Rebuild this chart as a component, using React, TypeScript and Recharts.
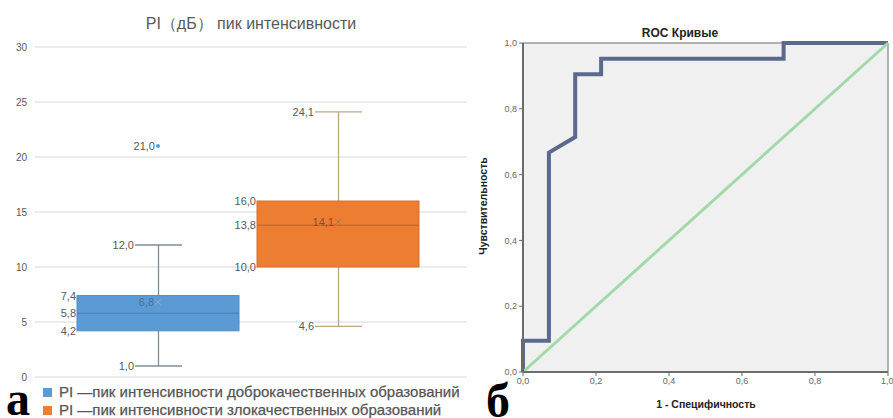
import React from 'react';
import {
  Bar,
  CartesianGrid,
  ComposedChart,
  Line,
  ReferenceLine,
  Scatter,
  XAxis,
  YAxis,
} from 'recharts';

// --- box plot data (PI, dB) ---
const groups = ['benign', 'malignant'];
const seriesNames = [
  'PI —пик интенсивности доброкачественных образований',
  'PI —пик интенсивности злокачественных образований',
];
const whiskerMin = [1.0, 4.6];
const whiskerMax = [12.0, 24.1];
const q1 = [4.2, 10.0];
const median = [5.8, 13.8];
const q3 = [7.4, 16.0];
const mean = [6.8, 14.1];
const outlier = [21.0, null];
const piTicks = [0, 5, 10, 15, 20, 25, 30];

// --- ROC data ---
const rocFpr = [0, 0, 0.071, 0.071, 0.143, 0.143, 0.214, 0.214, 0.714, 0.714, 1];
const rocTpr = [0, 0.095, 0.095, 0.667, 0.714, 0.905, 0.905, 0.952, 0.952, 1, 1];
const diagFpr = [0, 1];
const diagTpr = [0, 1];
const rocTicks = [0, 0.2, 0.4, 0.6, 0.8, 1];

const boxFill = ['#5b9bd5', '#ed7d31'];
const boxStroke = ['#4f8cc4', '#d8702a'];
const medianStroke = ['#4a7fb0', '#b8642a'];
const whiskerStroke = ['#7d8c9a', '#bba683'];
const labelColor = '#595959';

const boxData = groups.map((g, i) => ({
  group: g,
  min: whiskerMin[i],
  max: whiskerMax[i],
  q1: q1[i],
  median: median[i],
  q3: q3[i],
  mean: mean[i],
  outlier: outlier[i],
}));

const rocData = rocFpr.map((x, i) => ({ fpr: x, tpr: rocTpr[i] }));
const diagData = diagFpr.map((x, i) => ({ fpr: x, tpr: diagTpr[i] }));

const fmt = (v: number) => v.toFixed(1).replace('.', ',');
const font = '"Liberation Sans", Arial, sans-serif';
const serif = '"Liberation Serif", "Times New Roman", serif';

const WhiskerShape = (props: any) => {
  const { x, y, width, height, payload } = props;
  const i = groups.indexOf(payload.group);
  const top = Math.min(y, y + height);
  const bottom = Math.max(y, y + height);
  const cx = x + width / 2;
  const c = whiskerStroke[i];
  const t = { fontSize: 11, fill: labelColor, fontFamily: font };
  return (
    <g>
      <line x1={cx} x2={cx} y1={top} y2={bottom} stroke={c} strokeWidth={1.3} />
      <line x1={x} x2={x + width} y1={top} y2={top} stroke={c} strokeWidth={1.3} />
      <line x1={x} x2={x + width} y1={bottom} y2={bottom} stroke={c} strokeWidth={1.3} />
      <text x={x - 1} y={top} textAnchor="end" dominantBaseline="central" {...t}>
        {fmt(payload.max)}
      </text>
      <text x={x - 1} y={bottom} textAnchor="end" dominantBaseline="central" {...t}>
        {fmt(payload.min)}
      </text>
    </g>
  );
};

const BoxShape = (props: any) => {
  const { x, y, width, height, payload } = props;
  const i = groups.indexOf(payload.group);
  const top = Math.min(y, y + height);
  const h = Math.abs(height);
  const my = top + ((payload.q3 - payload.median) / (payload.q3 - payload.q1)) * h;
  const t = { fontSize: 11, fill: labelColor, fontFamily: font };
  return (
    <g>
      <rect x={x} y={top} width={width} height={h} fill={boxFill[i]} stroke={boxStroke[i]} strokeWidth={1} />
      <line x1={x} x2={x + width} y1={my} y2={my} stroke={medianStroke[i]} strokeWidth={1} />
      <text x={x - 1} y={top} textAnchor="end" dominantBaseline="central" {...t}>
        {fmt(payload.q3)}
      </text>
      <text x={x - 1} y={my} textAnchor="end" dominantBaseline="central" {...t}>
        {fmt(payload.median)}
      </text>
      <text x={x - 1} y={top + h} textAnchor="end" dominantBaseline="central" {...t}>
        {fmt(payload.q1)}
      </text>
    </g>
  );
};

const MeanShape = (props: any) => {
  const { cx, cy, payload } = props;
  const i = groups.indexOf(payload.group);
  const s = 3;
  const c = i === 0 ? '#8fa9c4' : '#a07a5a';
  return (
    <g>
      <line x1={cx - s} x2={cx + s} y1={cy - s} y2={cy + s} stroke={c} strokeWidth={1} />
      <line x1={cx - s} x2={cx + s} y1={cy + s} y2={cy - s} stroke={c} strokeWidth={1} />
      <text x={cx - 4} y={cy} textAnchor="end" dominantBaseline="central" fontSize={11} fill={i === 0 ? '#4d6f94' : '#7a5233'} fontFamily={font}>
        {fmt(payload.mean)}
      </text>
    </g>
  );
};

const OutlierShape = (props: any) => {
  const { cx, cy, payload } = props;
  if (payload.outlier == null || cy == null || isNaN(cy)) return <g />;
  const i = groups.indexOf(payload.group);
  return (
    <g>
      <circle cx={cx} cy={cy} r={2} fill={boxFill[i]} />
      <text x={cx - 3} y={cy} textAnchor="end" dominantBaseline="central" fontSize={11} fill={labelColor} fontFamily={font}>
        {fmt(payload.outlier)}
      </text>
    </g>
  );
};

const BoxPlot = () => (
  <ComposedChart width={470} height={418} data={boxData} margin={{ top: 47, right: 3, bottom: 41, left: 0 }}>
    <CartesianGrid vertical={false} stroke="#d9d9d9" />
    <XAxis xAxisId="w" dataKey="group" type="category" hide padding={{ left: 33, right: 39 }} allowDuplicatedCategory={false} />
    <XAxis xAxisId="b" dataKey="group" type="category" hide padding={{ left: 33, right: 39 }} allowDuplicatedCategory={false} />
    <YAxis
      type="number"
      domain={[0, 30]}
      ticks={piTicks}
      width={35}
      axisLine={false}
      tickLine={false}
      tick={{ fontSize: 10, fill: labelColor, fontFamily: font }}
    />
    <Bar xAxisId="w" dataKey={(d: any) => [d.min, d.max]} barSize={47} shape={WhiskerShape} isAnimationActive={false} />
    <Bar xAxisId="b" dataKey={(d: any) => [d.q1, d.q3]} barSize={162} shape={BoxShape} isAnimationActive={false} />
    <Scatter xAxisId="b" dataKey="mean" shape={MeanShape} isAnimationActive={false} />
    <Scatter xAxisId="b" dataKey="outlier" shape={OutlierShape} isAnimationActive={false} />
  </ComposedChart>
);

const RocChart = () => (
  <ComposedChart width={423} height={418} margin={{ top: 43, right: 5, bottom: 0, left: 0 }}>
    <CartesianGrid horizontal={false} vertical={false} fill="#f0f0f0" />
    <XAxis
      type="number"
      dataKey="fpr"
      domain={[0, 1]}
      ticks={rocTicks}
      tickFormatter={fmt}
      height={46}
      tickSize={4}
      axisLine={{ stroke: '#6b6b6b', strokeWidth: 2 }}
      tickLine={{ stroke: '#6b6b6b' }}
      tick={{ fontSize: 9, fill: '#666', fontFamily: font }}
    />
    <YAxis
      type="number"
      domain={[0, 1]}
      ticks={rocTicks}
      tickFormatter={fmt}
      width={53}
      tickSize={4}
      axisLine={{ stroke: '#6b6b6b', strokeWidth: 2 }}
      tickLine={{ stroke: '#6b6b6b' }}
      tick={{ fontSize: 9, fill: '#666', fontFamily: font }}
    />
    <ReferenceLine y={1} stroke="#9a9a9a" strokeWidth={1.5} />
    <ReferenceLine x={1} stroke="#9a9a9a" strokeWidth={1.5} />
    <Line data={rocData} dataKey="tpr" type="linear" stroke="#5b6a8c" strokeWidth={4} dot={false} isAnimationActive={false} />
    <Line data={diagData} dataKey="tpr" type="linear" stroke="#a3d9a8" strokeWidth={3} dot={false} isAnimationActive={false} />
  </ComposedChart>
);

export default function App() {
  return (
    <div style={{ position: 'absolute', left: 0, top: 0, width: 893, height: 418, overflow: 'hidden', background: '#fff', fontFamily: font }}>
      <div style={{ position: 'absolute', left: 0, top: 0 }}>
        <BoxPlot />
      </div>
      <div style={{ position: 'absolute', left: 470, top: 0 }}>
        <RocChart />
      </div>
      <div style={{ position: 'absolute', left: 0, width: 502, top: 14, textAlign: 'center', fontSize: 16, color: labelColor, whiteSpace: 'nowrap' }}>
        PI（дБ） пик интенсивности
      </div>
      <div style={{ position: 'absolute', left: 43, top: 383, fontSize: 15, color: '#555', lineHeight: '18px', WebkitTextStroke: '0.25px #555' }}>
        {seriesNames.map((n, i) => (
          <div key={n} style={{ display: 'flex', alignItems: 'center', whiteSpace: 'nowrap' }}>
            <span style={{ display: 'inline-block', width: 9, height: 9, background: boxFill[i], marginRight: 7 }} />
            {n}
          </div>
        ))}
      </div>
      <div style={{ position: 'absolute', left: 6, top: 384, fontSize: 48, fontWeight: 'bold', fontFamily: serif, lineHeight: '30px' }}>
        а
      </div>
      <div style={{ position: 'absolute', left: 486, top: 383, fontSize: 48, fontWeight: 'bold', fontFamily: serif, lineHeight: '36px' }}>
        б
      </div>
      <div style={{ position: 'absolute', left: 580, width: 200, top: 26, textAlign: 'center', fontSize: 12, fontWeight: 'bold', color: '#222' }}>
        ROC Кривые
      </div>
      <div style={{ position: 'absolute', left: 606, width: 200, top: 398, textAlign: 'center', fontSize: 10.5, fontWeight: 'bold', color: '#222' }}>
        1 - Специфичность
      </div>
      <div style={{ position: 'absolute', left: 383, width: 200, top: 200, textAlign: 'center', fontSize: 10.5, fontWeight: 'bold', color: '#222', transform: 'rotate(-90deg)' }}>
        Чувствительность
      </div>
    </div>
  );
}
